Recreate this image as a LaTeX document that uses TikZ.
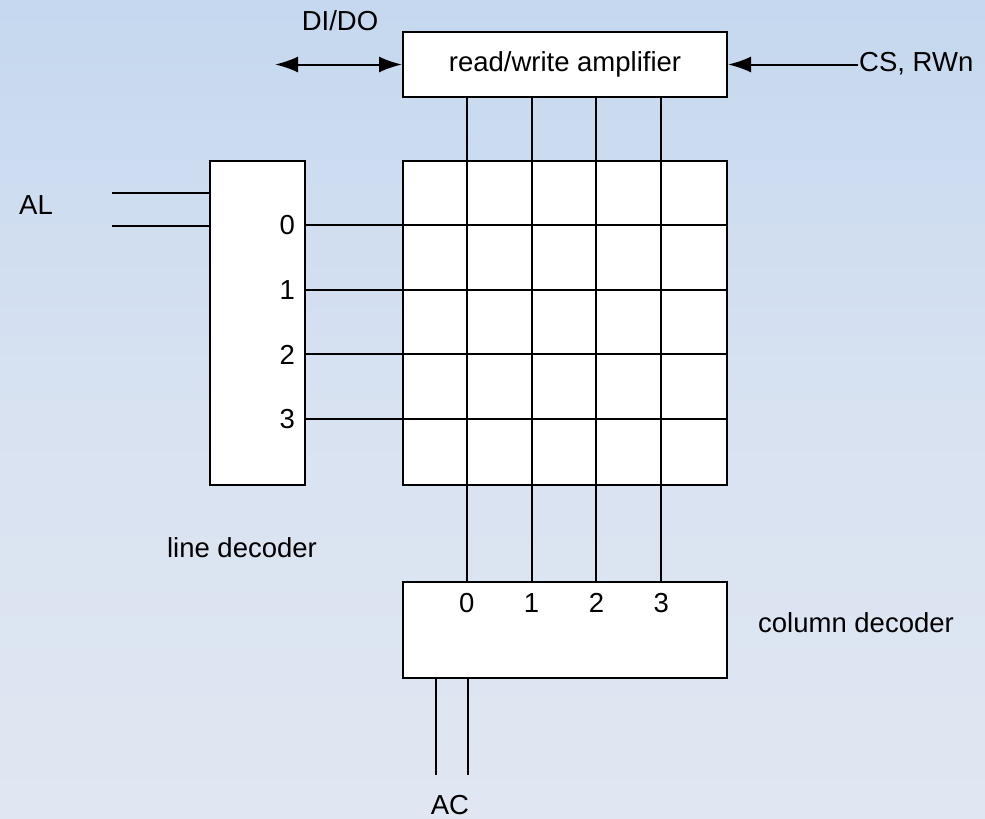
\documentclass[tikz,border=0pt]{standalone}
\usepackage{fontspec}
\setmainfont{Liberation Sans}
\usetikzlibrary{arrows.meta,calc}
\definecolor{bgtop}{RGB}{197,216,239}
\definecolor{bgbot}{RGB}{224,231,242}
\tikzset{
  blk/.style={draw=black, fill=white, line width=2pt, inner sep=0pt},
  wire/.style={line width=2pt},
  tip/.tip={Latex[length=23pt,width=16pt]},
  sig/.style={wire, -tip},
  bisig/.style={wire, tip-tip},
  lbl/.style={font=\fontsize{27.5}{32}\selectfont, inner sep=0pt},
}
\begin{document}
\begin{tikzpicture}[x=1pt, y=-1pt]
  % background
  \shade[top color=bgtop, bottom color=bgbot, middle color={rgb,255:red,216;green,226;blue,241}]
    (0,0) rectangle (985,819);
  \useasboundingbox (0,0) rectangle (985,819);

  % blocks
  \node[blk, minimum width=324pt, minimum height=65pt, lbl] (amp) at (565,64.5) {read/write amplifier};
  \node[blk, minimum width=324pt, minimum height=324pt] (mem) at (565,323) {};
  \node[blk, minimum width=95pt, minimum height=324pt] (ld) at (257.5,323) {};
  \node[blk, minimum width=324pt, minimum height=96pt] (cd) at (565,630) {};

  % memory cell grid
  \foreach \k in {1,...,4} {
    \coordinate (ct\k) at ($(mem.north west)+(64.8*\k,0)$);
    \coordinate (cb\k) at ($(mem.south west)+(64.8*\k,0)$);
    \coordinate (rl\k) at ($(mem.north west)+(0,64.8*\k)$);
    \coordinate (rr\k) at ($(mem.north east)+(0,64.8*\k)$);
    \draw[wire] (ct\k) -- (cb\k);
    \draw[wire] (rl\k) -- (rr\k);
  }

  % amplifier to columns, columns to column decoder
  \foreach \k in {1,...,4} {
    \draw[wire] (ct\k |- amp.south) -- (ct\k);
    \draw[wire] (cb\k) -- (cb\k |- cd.north);
  }

  % line decoder outputs to rows
  \foreach \k/\t in {1/0,2/1,3/2,4/3} {
    \draw[wire] (rl\k -| ld.east) -- (rl\k);
    \node[lbl, anchor=east] (ln\k) at ($(rl\k -| ld.east)+(-11,0)$) {\t};
  }

  % column decoder output labels
  \foreach \k/\t in {1/0,2/1,3/2,4/3} {
    \node[lbl] (cn\k) at ($(cb\k |- cd.north)+(0,22)$) {\t};
  }

  % address inputs
  \coordinate (al1) at (112,193);
  \coordinate (al2) at (112,226);
  \draw[wire] (al1) -- (al1 -| ld.west);
  \draw[wire] (al2) -- (al2 -| ld.west);
  \coordinate (ac1) at (436,775);
  \coordinate (ac2) at (468,775);
  \draw[wire] (ac1 |- cd.south) -- (ac1);
  \draw[wire] (ac2 |- cd.south) -- (ac2);

  % data and control
  \coordinate (dio) at (275,64.5);
  \coordinate (csin) at (858,64.5);
  \draw[bisig] (dio) -- (amp.west);
  \draw[sig] (csin) -- (amp.east);

  % labels
  \node[lbl] (tdio) at (340,21) {DI/DO};
  \node[lbl, anchor=west] (tcs) at (859,64) {CS, RWn};
  \node[lbl] (tal) at (36,205) {AL};
  \node[lbl] (tld) at (242,548) {line decoder};
  \node[lbl] (tcd) at (856,623) {column decoder};
  \node[lbl] (tac) at (450,805) {AC};
\end{tikzpicture}
\end{document}
